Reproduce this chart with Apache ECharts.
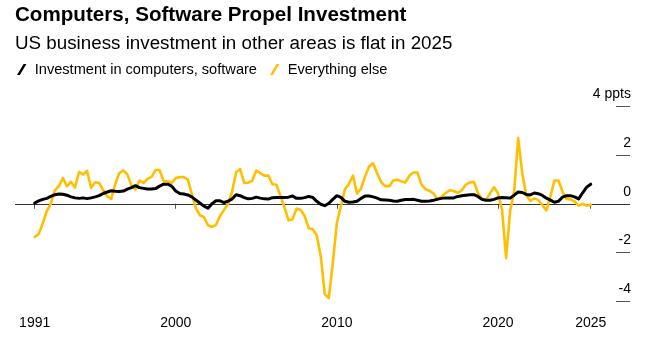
<!DOCTYPE html>
<html>
<head>
<meta charset="utf-8">
<script src="https://cdn.jsdelivr.net/npm/echarts@6/dist/echarts.min.js"></script>
<style>
  html, body { margin: 0; padding: 0; background: #fff; }
  #chart { width: 647px; height: 339px; }
</style>
</head>
<body>
<div id="chart"></div>
<script>
// ---- Data ----
const titleText = 'Computers, Software Propel Investment';
const subtitleText = 'US business investment in other areas is flat in 2025';
const seriesNames = ['Investment in computers, software', 'Everything else'];

// Quarterly, 1991 Q1 .. 2025 Q3
const firstYear = 1991;
const lastYear = 2025;
const lastQuarter = 3;

const computersSoftware = [
  0.03, 0.12, 0.18, 0.22, 0.30, 0.37, 0.40, 0.39, 0.35, 0.28,
  0.24, 0.22, 0.24, 0.21, 0.24, 0.28, 0.33, 0.42, 0.48, 0.53,
  0.51, 0.50, 0.52, 0.60, 0.66, 0.74, 0.66, 0.63, 0.60, 0.60,
  0.62, 0.72, 0.80, 0.80, 0.72, 0.52, 0.42, 0.40, 0.36, 0.28,
  0.15, 0.03, -0.10, -0.18, 0.00, 0.12, 0.12, 0.05, 0.10, 0.20,
  0.37, 0.33, 0.25, 0.20, 0.22, 0.27, 0.23, 0.20, 0.19, 0.25,
  0.26, 0.26, 0.26, 0.27, 0.32, 0.22, 0.22, 0.25, 0.30, 0.26,
  0.10, -0.02, -0.08, 0.02, 0.18, 0.33, 0.26, 0.10, 0.06, 0.07,
  0.10, 0.22, 0.32, 0.32, 0.28, 0.23, 0.16, 0.15, 0.14, 0.11,
  0.10, 0.14, 0.17, 0.17, 0.18, 0.14, 0.10, 0.10, 0.11, 0.14,
  0.19, 0.22, 0.24, 0.24, 0.24, 0.30, 0.33, 0.35, 0.37, 0.37,
  0.30, 0.18, 0.14, 0.14, 0.18, 0.24, 0.26, 0.25, 0.23, 0.35,
  0.48, 0.46, 0.38, 0.36, 0.44, 0.41, 0.34, 0.23, 0.15, 0.06,
  0.10, 0.27, 0.33, 0.33, 0.28, 0.20, 0.45, 0.68, 0.80
];

const everythingElse = [
  -1.36, -1.24, -0.80, -0.30, 0.00, 0.55, 0.72, 1.05, 0.72, 0.90,
  0.66, 1.30, 1.20, 1.35, 0.65, 0.88, 0.85, 0.55, 0.30, 0.20,
  0.82, 1.25, 1.36, 1.20, 0.75, 0.58, 0.95, 0.85, 1.02, 1.10,
  1.38, 1.38, 0.92, 0.92, 0.85, 1.05, 1.09, 1.09, 1.00, 0.40,
  -0.18, -0.47, -0.55, -0.88, -0.95, -0.86, -0.50, -0.25, 0.00, 0.50,
  1.30, 1.42, 0.85, 0.86, 0.95, 1.36, 1.25, 1.15, 1.15, 0.80,
  0.78, 0.32, -0.15, -0.68, -0.63, -0.20, -0.25, -0.50, -1.00, -1.04,
  -1.30, -2.15, -3.70, -3.86, -2.40, -0.78, -0.10, 0.60, 0.82, 1.15,
  0.42, 0.62, 1.12, 1.53, 1.66, 1.25, 0.88, 0.72, 0.72, 0.95,
  0.98, 0.92, 0.87, 1.15, 1.28, 1.28, 0.78, 0.60, 0.53, 0.42,
  0.16, 0.30, 0.44, 0.55, 0.52, 0.45, 0.55, 0.78, 0.87, 0.90,
  0.45, 0.20, 0.16, 0.42, 0.68, 0.42, -0.25, -2.22, -0.30, 0.50,
  2.69, 1.25, 0.35, 0.12, 0.22, 0.15, -0.05, -0.27, 0.30, 0.95,
  0.95, 0.50, 0.20, 0.18, 0.10, -0.08, 0.00, -0.08, -0.04
];

const xTickLabels = ['1991', '2000', '2010', '2020', '2025'];
const yTickValues = [-4, -2, 0, 2, 4];
const yUnit = 'ppts';

// ---- Build quarter positions (quarter-end dates as fractional years) ----
const quarterPos = [];
for (let y = firstYear; y <= lastYear; y++) {
  for (let q = 1; q <= 4; q++) {
    if (y === lastYear && q > lastQuarter) break;
    quarterPos.push(y + q / 4);
  }
}
// tick positions: first and last labels sit on first / last observation
const xTickPos = xTickLabels.map((l, i) => {
  if (i === 0) return quarterPos[0];
  if (i === xTickLabels.length - 1) return quarterPos[quarterPos.length - 1];
  return Number(l);
});

const blackData = quarterPos.map((x, i) => [x, computersSoftware[i]]);
const yellowData = quarterPos.map((x, i) => [x, everythingElse[i]]);

const FONT = "'Liberation Sans', Arial, Helvetica, sans-serif";
const YELLOW = '#ffbf00';
const BLACK = '#000000';

const chart = echarts.init(document.getElementById('chart'), null, { renderer: 'canvas' });

chart.setOption({
  animation: false,
  backgroundColor: '#ffffff',
  title: {
    text: titleText,
    subtext: subtitleText,
    left: 15,
    top: 5,
    padding: 0,
    itemGap: 8,
    textStyle: { fontFamily: FONT, fontSize: 20.6, fontWeight: 'bold', color: '#000' },
    subtextStyle: { fontFamily: FONT, fontSize: 18.8, color: '#000' }
  },
  legend: {
    left: 17,
    top: 62,
    padding: 0,
    itemGap: 13,
    itemWidth: 16,
    itemHeight: 11,
    data: [
      { name: seriesNames[0], icon: 'path://M0,10 L6,0 L8.6,0 L2.6,10 Z', itemStyle: { color: BLACK } },
      { name: seriesNames[1], icon: 'path://M0,10 L6,0 L8.6,0 L2.6,10 Z', itemStyle: { color: YELLOW } }
    ],
    textStyle: { fontFamily: FONT, fontSize: 14.6, color: '#000' }
  },
  grid: { left: 15, right: 17, top: 106, bottom: 37.5, containLabel: false },
  xAxis: {
    type: 'value',
    min: 1990.028,
    max: 2028.188,
    axisLine: { show: false },
    splitLine: { show: false },
    axisTick: {
      show: true,
      customValues: xTickPos,
      length: 5,
      lineStyle: { color: '#555', width: 1 }
    },
    axisLabel: {
      customValues: xTickPos,
      margin: 15,
      fontFamily: FONT,
      fontSize: 14,
      color: '#000',
      formatter: function (v) {
        let best = 0, d = Infinity;
        xTickPos.forEach((p, i) => { if (Math.abs(p - v) < d) { d = Math.abs(p - v); best = i; } });
        return xTickLabels[best];
      }
    }
  },
  yAxis: {
    type: 'value',
    position: 'right',
    min: yTickValues[0],
    max: yTickValues[yTickValues.length - 1],
    interval: 2,
    axisLine: { show: false },
    splitLine: { show: false },
    axisTick: { show: true, inside: true, length: 14, lineStyle: { color: '#555', width: 1 } },
    axisLabel: {
      inside: true,
      margin: -1,
      fontFamily: FONT,
      fontSize: 14,
      color: '#000',
      verticalAlign: 'bottom',
      lineHeight: 14,
      padding: [0, 0, 5, 0],
      formatter: function (v) {
        if (v === yTickValues[yTickValues.length - 1]) return v + ' ' + yUnit;
        return String(v);
      }
    }
  },
  series: [
    {
      name: seriesNames[1],
      type: 'line',
      data: yellowData,
      showSymbol: false,
      symbol: 'none',
      z: 2,
      lineStyle: { color: YELLOW, width: 2.6, cap: 'round', join: 'round' },
      itemStyle: { color: YELLOW }
    },
    {
      name: seriesNames[0],
      type: 'line',
      data: blackData,
      showSymbol: false,
      symbol: 'none',
      z: 3,
      lineStyle: { color: BLACK, width: 3, cap: 'round', join: 'round' },
      itemStyle: { color: BLACK },
      markLine: {
        silent: true,
        symbol: 'none',
        label: { show: false },
        lineStyle: { color: '#333', width: 1, type: 'solid' },
        data: [{ yAxis: 0 }],
        z: 1
      }
    }
  ]
});
</script>
</body>
</html>
